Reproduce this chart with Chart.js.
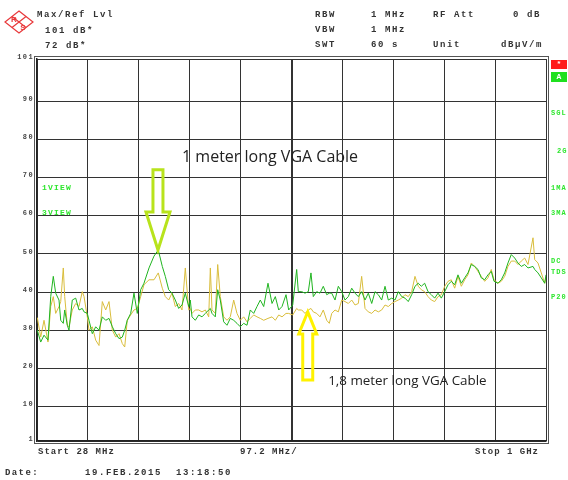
<!DOCTYPE html>
<html>
<head>
<meta charset="utf-8">
<script src="https://cdn.jsdelivr.net/npm/chart.js"></script>
<style>
  html, body { margin: 0; padding: 0; background: #fff; }
</style>
</head>
<body>
<canvas id="c" width="568" height="480"></canvas>
<script>
// Sweep points in MHz, shared by both traces
const freqMHz = [
  28.6, 35.1, 41.4, 49.0, 54.2, 59.1, 63.7, 70.0, 73.3, 78.2, 80.9, 85.9, 89.1, 95.4, 101.9, 108.2, 114.5, 117.8, 124.1, 127.3,
  133.6, 140.1, 146.4, 152.7, 159.2, 165.5, 171.9, 178.3, 184.6, 190.9, 195.5, 200.4, 206.9, 213.2, 219.5, 226.0, 232.3, 241.9, 251.4, 259.6, 267.3,
  273.0, 279.5, 285.8, 292.1, 298.6, 304.9, 311.2, 317.7, 320.7, 324.0, 330.3, 336.8, 343.1, 349.4, 355.9, 359.0, 362.2, 368.5, 373.1, 378.0,
  384.5, 390.8, 397.1, 403.6, 409.9, 416.2, 422.7, 429.0, 435.3, 441.8, 448.1, 454.4, 460.9, 469.1, 476.8, 483.1, 489.6, 495.9, 503.5, 508.6,
  516.3, 523.9, 527.0, 533.5, 539.8, 546.1, 551.2, 555.6, 562.1, 568.4, 574.7, 581.2, 586.2, 590.8, 597.1, 603.4, 609.9, 616.2, 622.5, 629.0,
  635.3, 641.6, 648.0, 654.4, 660.7, 667.2, 673.5, 679.8, 686.2, 692.6, 698.9, 705.4, 711.7, 718.0, 724.5, 730.7, 737.0, 743.5, 749.8, 756.1,
  761.9, 768.3, 774.7, 781.0, 787.4, 793.8, 800.1, 806.6, 812.9, 819.1, 825.6, 831.9, 838.3, 844.7, 851.0, 857.3, 863.8, 870.1, 876.4, 882.9,
  889.2, 895.5, 900.7, 908.3, 914.6, 921.1, 927.4, 933.7, 940.2, 946.5, 952.8, 959.3, 965.6, 975.2, 978.4, 984.7, 991.0, 997.5, 1000
];

// green trace: 1 meter VGA cable (dBuV/m)
const greenDb = [
  30.0, 26.9, 28.7, 27.4, 38.8, 44.1, 39.7, 37.9, 32.6, 31.8, 35.3, 31.3, 30.0, 37.9, 38.4, 35.3, 35.7, 34.8, 34.4, 32.6,
  29.1, 30.9, 30.0, 33.5, 32.6, 33.1, 30.9, 29.1, 27.8, 28.2, 30.0, 32.6, 34.4, 39.7, 34.4, 40.6, 42.3, 46.3, 49.4, 51.0, 46.7,
  44.1, 40.6, 39.7, 37.9, 35.7, 36.6, 39.7, 36.2, 37.9, 33.5, 32.6, 34.0, 33.5, 34.4, 35.3, 35.7, 34.4, 33.5, 40.6, 37.9,
  32.2, 31.3, 33.1, 32.6, 31.8, 30.9, 31.8, 31.3, 35.3, 34.4, 36.2, 37.9, 36.2, 42.3, 37.0, 38.8, 35.3, 36.2, 39.3, 35.3,
  36.6, 45.9, 40.1, 40.1, 39.7, 40.1, 45.0, 38.8, 40.1, 39.7, 41.5, 39.3, 39.7, 39.7, 37.9, 41.5, 40.1, 37.9, 38.8, 41.0,
  39.7, 38.8, 40.1, 37.9, 39.7, 37.0, 40.1, 39.3, 37.9, 41.5, 37.9, 38.4, 37.9, 40.1, 38.8, 38.4, 37.5, 39.3, 41.5, 42.3,
  41.5, 42.3, 40.1, 39.3, 38.4, 39.7, 38.4, 40.1, 41.9, 42.8, 41.9, 44.5, 42.3, 43.7, 45.0, 47.2, 46.7, 45.9, 43.7, 43.2,
  44.5, 45.4, 42.8, 42.3, 43.2, 45.0, 47.6, 49.8, 48.9, 47.6, 46.7, 47.2, 46.3, 46.7, 45.9, 45.0, 43.7, 42.3, 44.5
];

// yellow trace: 1,8 meter VGA cable (dBuV/m)
const yellowDb = [
  33.3, 28.2, 32.6, 26.9, 36.2, 38.8, 34.4, 36.2, 37.5, 46.3, 38.8, 31.3, 30.9, 35.3, 37.0, 36.2, 40.1, 38.8, 33.5, 30.0,
  30.9, 27.4, 26.0, 37.5, 35.3, 37.5, 30.0, 28.2, 29.1, 26.5, 25.6, 32.6, 34.0, 35.3, 35.7, 38.8, 41.9, 43.2, 43.2, 45.0, 41.0,
  38.8, 37.9, 39.7, 36.2, 37.0, 35.3, 46.3, 35.3, 35.7, 34.4, 35.3, 35.3, 34.8, 35.3, 33.5, 46.3, 35.3, 34.4, 47.2, 38.8,
  33.5, 32.6, 33.5, 37.9, 34.4, 32.6, 33.5, 32.2, 33.1, 34.0, 33.5, 33.1, 32.6, 33.1, 33.5, 32.6, 34.0, 33.5, 34.4, 34.4,
  34.0, 35.7, 35.3, 35.3, 34.4, 35.3, 35.7, 34.8, 34.4, 33.5, 35.3, 32.6, 31.8, 34.4, 35.3, 34.8, 37.9, 37.5, 37.0, 37.9,
  36.6, 37.0, 44.1, 35.7, 34.8, 34.4, 35.3, 34.8, 35.3, 36.6, 36.2, 37.0, 37.5, 37.9, 38.4, 39.3, 38.8, 40.1, 44.1, 41.5,
  40.6, 40.1, 38.8, 37.9, 37.5, 38.8, 39.3, 41.5, 42.8, 43.2, 41.0, 44.1, 41.5, 43.2, 44.5, 47.6, 46.7, 45.4, 44.1, 42.8,
  43.7, 45.9, 43.2, 42.3, 42.8, 44.1, 46.7, 48.1, 48.1, 47.2, 48.1, 48.9, 47.2, 54.2, 48.5, 47.6, 45.0, 42.3, 43.7
];

// grid: 28 MHz start, 97.2 MHz per division, 1 GHz stop
const xGridMHz = [28, 125.2, 222.4, 319.6, 416.8, 514, 611.2, 708.4, 805.6, 902.8, 1000];
const yTicks = [1, 10, 20, 30, 40, 50, 60, 70, 80, 90, 101];

const MONO = '"Liberation Mono", "DejaVu Sans Mono", monospace';
const LABEL_GREEN = '#2ee62e';

function toPoints(values) {
  return values.map((v, i) => ({ x: freqMHz[i], y: v }));
}

function monoText(ctx, str, x, y, opts) {
  const o = opts || {};
  ctx.save();
  ctx.font = 'bold ' + (o.size || 9) + 'px ' + MONO;
  ctx.letterSpacing = (o.spacing != null ? o.spacing : 1.6) + 'px';
  ctx.fillStyle = o.color || '#333';
  ctx.textAlign = o.align || 'left';
  ctx.textBaseline = 'middle';
  ctx.fillText(str, x, y);
  ctx.restore();
}

function drawLogo(ctx) {
  ctx.save();
  ctx.strokeStyle = '#e8383a';
  ctx.fillStyle = '#e8383a';
  ctx.lineWidth = 1.2;
  ctx.beginPath();
  ctx.moveTo(19, 11); ctx.lineTo(33, 22); ctx.lineTo(19, 33); ctx.lineTo(5, 22);
  ctx.closePath();
  ctx.stroke();
  ctx.beginPath();
  ctx.moveTo(12, 16.5); ctx.lineTo(26, 27.5);
  ctx.moveTo(26, 16.5); ctx.lineTo(12, 27.5);
  ctx.stroke();
  ctx.font = 'bold 8px "Liberation Sans", sans-serif';
  ctx.textAlign = 'center';
  ctx.textBaseline = 'middle';
  ctx.fillText('R', 14, 20);
  ctx.fillText('S', 23, 28);
  ctx.restore();
}

// hollow block arrow, tip at (cx, tipY)
function drawArrow(ctx, cx, tipY, baseY, shaft, head, headLen, color) {
  const dir = baseY > tipY ? 1 : -1;
  const neck = tipY + dir * headLen;
  ctx.save();
  ctx.strokeStyle = color;
  ctx.lineWidth = 3;
  ctx.lineJoin = 'miter';
  ctx.beginPath();
  ctx.moveTo(cx, tipY);
  ctx.lineTo(cx + head, neck);
  ctx.lineTo(cx + shaft, neck);
  ctx.lineTo(cx + shaft, baseY);
  ctx.lineTo(cx - shaft, baseY);
  ctx.lineTo(cx - shaft, neck);
  ctx.lineTo(cx - head, neck);
  ctx.closePath();
  ctx.stroke();
  ctx.restore();
}

const screenText = {
  id: 'screenText',
  afterDatasetsDraw(chart) {
    const ctx = chart.ctx;
    const xs = chart.scales.x, ys = chart.scales.y;

    // outer frame line
    const a = chart.chartArea;
    ctx.save();
    ctx.strokeStyle = '#555';
    ctx.lineWidth = 1;
    ctx.strokeRect(a.left - 2.5, a.top - 2.5, a.right - a.left + 5, a.bottom - a.top + 5);
    ctx.restore();

    drawArrow(ctx, xs.getPixelForValue(259), ys.getPixelForValue(51), ys.getPixelForValue(72), 5, 12, 38, '#b8e31c');
    drawArrow(ctx, xs.getPixelForValue(545), ys.getPixelForValue(34.8), ys.getPixelForValue(17), 5, 9, 22, '#fff200');

    ctx.save();
    ctx.fillStyle = '#222';
    ctx.textBaseline = 'middle';
    ctx.font = '16px "Open Sans", "Liberation Sans", sans-serif';
    ctx.fillText('1 meter long VGA Cable', xs.getPixelForValue(305), ys.getPixelForValue(75.3));
    ctx.font = '13.4px "Open Sans", "Liberation Sans", sans-serif';
    ctx.fillText('1,8 meter long VGA Cable', xs.getPixelForValue(584), ys.getPixelForValue(16.7));
    ctx.restore();
  },
  afterDraw(chart) {
    const ctx = chart.ctx;
    const ys = chart.scales.y;

    drawLogo(ctx);

    // header block
    monoText(ctx, 'Max/Ref Lvl', 37, 15);
    monoText(ctx, '101 dB*', 45, 31);
    monoText(ctx, '72 dB*', 45, 46);
    monoText(ctx, 'RBW', 315, 15);
    monoText(ctx, '1 MHz', 371, 15);
    monoText(ctx, 'RF Att', 433, 15);
    monoText(ctx, '0 dB', 513, 15);
    monoText(ctx, 'VBW', 315, 30);
    monoText(ctx, '1 MHz', 371, 30);
    monoText(ctx, 'SWT', 315, 45);
    monoText(ctx, '60 s', 371, 45);
    monoText(ctx, 'Unit', 433, 45);
    monoText(ctx, 'dB\u00b5V/m', 501, 45);

    // level labels on the left
    yTicks.forEach(v => {
      monoText(ctx, String(v), 34, ys.getPixelForValue(v) - 2, { size: 7, spacing: 1.4, align: 'right', color: '#444' });
    });

    monoText(ctx, '1VIEW', 42, 188, { color: LABEL_GREEN, size: 8, spacing: 1.2 });
    monoText(ctx, '3VIEW', 42, 213, { color: LABEL_GREEN, size: 8, spacing: 1.2 });

    // side panel
    ctx.save();
    ctx.fillStyle = '#ff1a1a';
    ctx.fillRect(551, 60, 16, 9);
    ctx.fillStyle = '#1fe01f';
    ctx.fillRect(551, 72, 16, 10);
    ctx.restore();
    monoText(ctx, '*', 559, 64, { color: '#fff', size: 8, spacing: 0, align: 'center' });
    monoText(ctx, 'A', 559, 77, { color: '#fff', size: 8, spacing: 0, align: 'center' });
    monoText(ctx, 'SGL', 551, 113, { color: LABEL_GREEN, size: 7, spacing: 1 });
    monoText(ctx, '2G', 557, 151, { color: LABEL_GREEN, size: 7, spacing: 1 });
    monoText(ctx, '1MA', 551, 188, { color: LABEL_GREEN, size: 7, spacing: 1 });
    monoText(ctx, '3MA', 551, 213, { color: LABEL_GREEN, size: 7, spacing: 1 });
    monoText(ctx, 'DC', 551, 261, { color: LABEL_GREEN, size: 7, spacing: 1 });
    monoText(ctx, 'TDS', 551, 272, { color: LABEL_GREEN, size: 7, spacing: 1 });
    monoText(ctx, 'P20', 551, 297, { color: LABEL_GREEN, size: 7, spacing: 1 });

    // footer
    monoText(ctx, 'Start 28 MHz', 38, 452, { spacing: 1 });
    monoText(ctx, '97.2 MHz/', 240, 452, { spacing: 1 });
    monoText(ctx, 'Stop 1 GHz', 475, 452, { spacing: 1 });
    monoText(ctx, 'Date:', 5, 473, { spacing: 1.4 });
    monoText(ctx, '19.FEB.2015  13:18:50', 85, 473, { spacing: 1.6 });
  }
};

new Chart(document.getElementById('c'), {
  type: 'line',
  data: {
    datasets: [
      { label: '1 meter long VGA Cable', data: toPoints(greenDb), borderColor: '#1fb41f', borderWidth: 1, pointRadius: 0, tension: 0 },
      { label: '1,8 meter long VGA Cable', data: toPoints(yellowDb), borderColor: '#d9bd3c', borderWidth: 1, pointRadius: 0, tension: 0 }
    ]
  },
  options: {
    responsive: false,
    animation: false,
    layout: { padding: { left: 0, right: 22, top: 59, bottom: 39 } },
    plugins: { legend: { display: false }, tooltip: { enabled: false } },
    scales: {
      x: {
        type: 'linear', min: 28, max: 1000,
        afterBuildTicks: s => { s.ticks = xGridMHz.map(v => ({ value: v })); },
        afterFit: s => { s.height = 0; },
        ticks: { display: false },
        grid: { color: '#333', lineWidth: c => (c.index === 5 ? 2 : 1), drawTicks: false },
        border: { display: true, color: '#222', width: 1.5 }
      },
      y: {
        min: 1, max: 101,
        afterBuildTicks: s => { s.ticks = yTicks.map(v => ({ value: v })); },
        afterFit: s => { s.width = 37; },
        ticks: { display: false },
        grid: { color: '#333', lineWidth: 1, drawTicks: false },
        border: { display: true, color: '#222', width: 1.5 }
      }
    }
  },
  plugins: [screenText]
});
</script>
</body>
</html>
